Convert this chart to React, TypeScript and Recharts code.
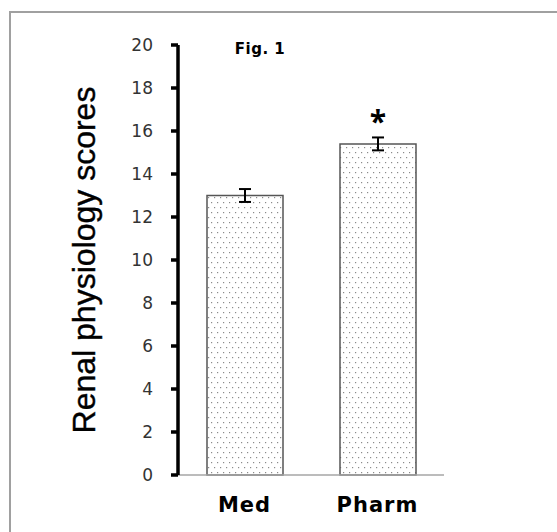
import React from 'react';
import {
  BarChart,
  Bar,
  XAxis,
  YAxis,
  ErrorBar,
  LabelList,
  Customized,
} from 'recharts';

const groups = ['Med', 'Pharm'];
const scores = [13.0, 15.4];
const scoreErrors = [0.3, 0.3];
const significance = ['', '*'];
const yTicks = [0, 2, 4, 6, 8, 10, 12, 14, 16, 18, 20];

const data = groups.map((g, i) => ({
  group: g,
  score: scores[i],
  err: scoreErrors[i],
  sig: significance[i],
}));

const labelFont = "'Liberation Sans', sans-serif";
const tickFont = "'DejaVu Sans', sans-serif";

// y-axis title and the "Fig. 1" note sit on the svg directly
const Annotations = () => (
  <g>
    <defs>
      <pattern id="dots" width="6" height="10" patternUnits="userSpaceOnUse">
        <rect x="1" y="2" width="1.2" height="1.2" fill="#8a8a8a" />
        <rect x="4" y="7" width="1.2" height="1.2" fill="#8a8a8a" />
      </pattern>
    </defs>
    <text
      x={0}
      y={0}
      transform="translate(95 260) rotate(-90)"
      textAnchor="middle"
      fontFamily={labelFont}
      fontSize={32}
      stroke="#000"
      strokeWidth={0.4}
      fill="#000"
    >
      Renal physiology scores
    </text>
    <text
      x={260}
      y={54}
      textAnchor="middle"
      fontFamily={tickFont}
      fontWeight="bold"
      fontSize={15}
      letterSpacing={0.5}
      fill="#000"
    >
      Fig. 1
    </text>
  </g>
);

export default function App() {
  return (
    <div style={{ position: 'absolute', left: 0, top: 0, width: 557, height: 532, background: '#fff' }}>
      <div
        style={{
          position: 'absolute',
          left: 9,
          top: 11,
          right: 0,
          bottom: 0,
          borderTop: '2px solid #a0a0a0',
          borderLeft: '2px solid #a0a0a0',
        }}
      />
      <BarChart
        width={557}
        height={532}
        data={data}
        margin={{ top: 45, right: 113, left: 0, bottom: 0 }}
        style={{ position: 'absolute', left: 0, top: 0 }}
      >
        <Customized component={Annotations} />
        <XAxis
          dataKey="group"
          height={57}
          axisLine={{ stroke: '#a6a6a6', strokeWidth: 1.5 }}
          tickLine={false}
          tickMargin={16}
          tick={{ fill: '#000', fontSize: 21, fontWeight: 'bold', fontFamily: tickFont, letterSpacing: 1 }}
        />
        <YAxis
          width={178}
          domain={[0, 20]}
          ticks={yTicks}
          interval={0}
          axisLine={{ stroke: '#000', strokeWidth: 3.5 }}
          tickLine={{ stroke: '#000', strokeWidth: 3.5 }}
          tickSize={7}
          tickMargin={18}
          tick={{ fill: '#333', fontSize: 17, fontFamily: tickFont }}
        />
        <Bar
          dataKey="score"
          fill="url(#dots)"
          stroke="#555"
          strokeWidth={1.5}
          barSize={76}
          isAnimationActive={false}
        >
          <ErrorBar dataKey="err" width={6} stroke="#000" strokeWidth={2} direction="y" />
          <LabelList
            dataKey="sig"
            position="top"
            offset={12}
            fill="#000"
            fontSize={30}
            fontWeight="bold"
            fontFamily="'Open Sans', sans-serif"
          />
        </Bar>
      </BarChart>
    </div>
  );
}
